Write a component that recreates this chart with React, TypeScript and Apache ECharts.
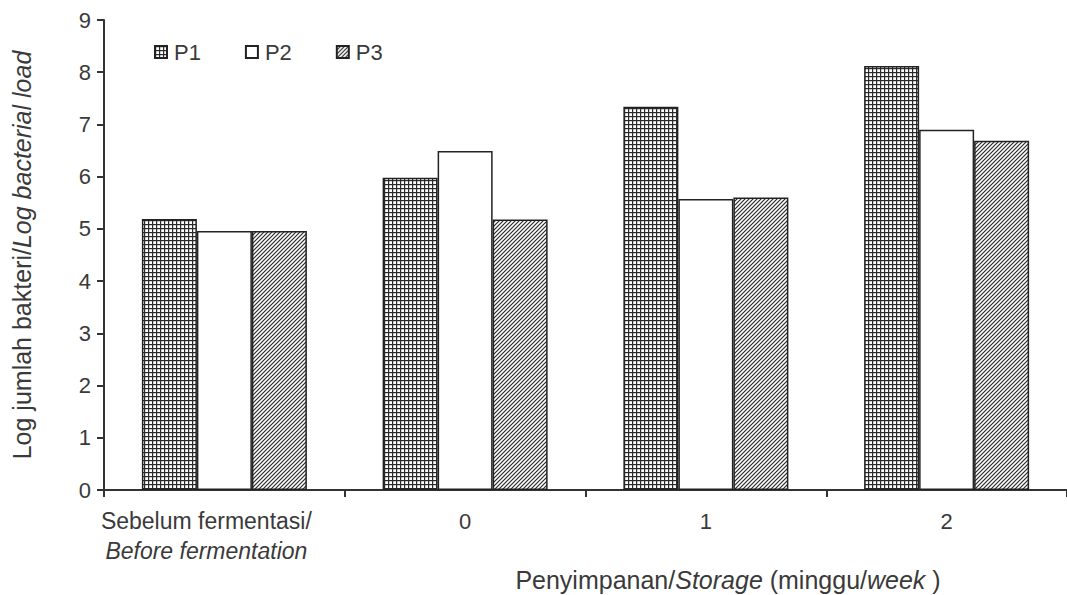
import React, { useEffect, useRef } from "react";
import * as echarts from "echarts";

const categories = ["Sebelum fermentasi/\nBefore fermentation", "0", "1", "2"];
const seriesNames = ["P1", "P2", "P3"];
const p1Values = [5.19, 5.98, 7.34, 8.12];
const p2Values = [4.96, 6.49, 5.57, 6.9];
const p3Values = [4.96, 5.18, 5.6, 6.69];
const yMin = 0;
const yMax = 9;
const yInterval = 1;
const yAxisTitle = "Log jumlah bakteri/{i|Log bacterial load}";
const xAxisTitle = "Penyimpanan/{i|Storage} (minggu/{i|week} )";

const FONT = "'Liberation Sans', Arial, Helvetica, sans-serif";
const TEXT = "#3a3a3a";

function makePattern(kind: "grid" | "hatch") {
  const c = document.createElement("canvas");
  c.width = 4;
  c.height = 4;
  const ctx = c.getContext("2d")!;
  ctx.fillStyle = "#ffffff";
  ctx.fillRect(0, 0, 4, 4);
  ctx.fillStyle = "#2a2a2a";
  ctx.strokeStyle = "#2a2a2a";
  if (kind === "grid") {
    ctx.fillRect(0, 0, 4, 1.2);
    ctx.fillRect(0, 0, 1.2, 4);
  } else {
    ctx.lineWidth = 1.2;
    ctx.beginPath();
    ctx.moveTo(-1, 5);
    ctx.lineTo(5, -1);
    ctx.moveTo(-1, 1);
    ctx.lineTo(1, -1);
    ctx.moveTo(3, 5);
    ctx.lineTo(5, 3);
    ctx.stroke();
  }
  return { type: "pattern", image: c, repeat: "repeat", imageWidth: 4, imageHeight: 4 } as any;
}

export default function App() {
  const ref = useRef<HTMLDivElement>(null);
  useEffect(() => {
    if (!ref.current) return;
    const chart = echarts.init(ref.current, null, { renderer: "svg" });
    const fills = [makePattern("grid"), "#ffffff", makePattern("hatch")];
    const values = [p1Values, p2Values, p3Values];
    chart.setOption({
      animation: false,
      backgroundColor: "#ffffff",
      textStyle: { fontFamily: FONT, color: TEXT },
      legend: {
        left: 149,
        top: 36,
        itemWidth: 12,
        itemHeight: 12,
        itemGap: 44,
        icon: "rect",
        textStyle: { fontSize: 22, color: TEXT, fontFamily: FONT, padding: [0, 0, 0, 2] },
        data: seriesNames,
      },
      grid: { left: 104, right: -8, top: 20, bottom: 105, containLabel: false },
      xAxis: {
        type: "category",
        data: categories,
        axisLine: { lineStyle: { color: "#333", width: 2 } },
        axisTick: { show: true, length: 7, lineStyle: { color: "#333", width: 2 } },
        axisLabel: {
          margin: 16,
          interval: 0,
          formatter: (v: string) => {
            if (v.indexOf("\n") >= 0) {
              const [a, b] = v.split("\n");
              return "{a|" + a + "}\n{i|" + b + "}";
            }
            return "{n|" + v + "}";
          },
          rich: {
            a: { fontSize: 23, lineHeight: 30, color: TEXT, fontFamily: FONT, padding: [0, 36, 0, 0] },
            i: { fontSize: 23, lineHeight: 30, color: TEXT, fontFamily: FONT, fontStyle: "italic", padding: [0, 36, 0, 0] },
            n: { fontSize: 22, lineHeight: 30, color: TEXT, fontFamily: FONT },
          },
        },
      },
      yAxis: {
        type: "value",
        min: yMin,
        max: yMax,
        interval: yInterval,
        splitLine: { show: false },
        axisLine: { show: true, lineStyle: { color: "#333", width: 2 } },
        axisTick: { show: true, length: 7, lineStyle: { color: "#333", width: 2 } },
        axisLabel: { fontSize: 22, color: TEXT, fontFamily: FONT, margin: 13 },
        name: yAxisTitle,
        nameLocation: "middle",
        nameGap: 70,
        nameTextStyle: {
          fontSize: 25,
          color: TEXT,
          fontFamily: FONT,
          rich: { i: { fontSize: 25, color: TEXT, fontFamily: FONT, fontStyle: "italic" } },
        },
      },
      graphic: [
        {
          type: "text",
          x: 728,
          y: 580,
          style: {
            text: xAxisTitle,
            fontSize: 25,
            fontFamily: FONT,
            fill: TEXT,
            align: "center",
            verticalAlign: "middle",
            rich: { i: { fontSize: 25, fontFamily: FONT, fill: TEXT, fontStyle: "italic" } },
          },
        },
      ],
      series: seriesNames.map((name, k) => ({
        name,
        type: "bar",
        data: values[k],
        barWidth: 55,
        barGap: "0%",
        itemStyle: { color: fills[k], borderColor: "#222", borderWidth: 1.5 },
      })),
    });
    return () => chart.dispose();
  }, []);
  return (
    <div
      ref={ref}
      style={{ position: "fixed", left: 0, top: 0, width: 1067, height: 595, background: "#fff" }}
    />
  );
}
